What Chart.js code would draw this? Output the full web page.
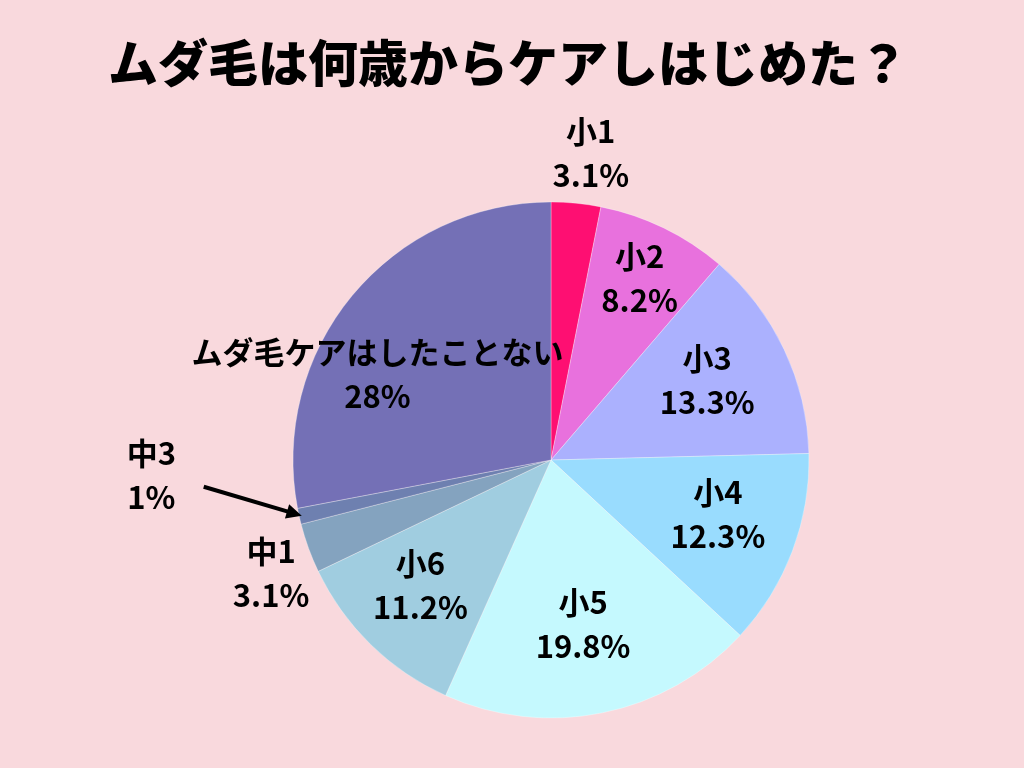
<!DOCTYPE html>
<html lang="ja">
<head>
<meta charset="utf-8">
<title>ムダ毛は何歳からケアしはじめた？</title>
<script src="https://cdn.jsdelivr.net/npm/chart.js@4.4.1/dist/chart.umd.min.js"></script>
<style>
  html, body { margin: 0; padding: 0; background: #f9d9dd; }
  #wrap { width: 1024px; height: 768px; position: relative; }
</style>
</head>
<body>
<div id="wrap"><canvas id="pieChart" width="1024" height="768"></canvas></div>
<script>
const title = 'ムダ毛は何歳からケアしはじめた？';
const categories = ['小1', '小2', '小3', '小4', '小5', '小6', '中1', '中3', 'ムダ毛ケアはしたことない'];
const percents = [3.1, 8.2, 13.3, 12.3, 19.8, 11.2, 3.1, 1, 28];
const colors = ['#fe0f72', '#e871dd', '#abb1fe', '#99dcfe', '#c5f9fe', '#a0cde0', '#84a3bf', '#6e80b0', '#7470b6'];

// ラベル位置（半径に対する倍率と角度のずれ）
const labelRadius = [1.20, 0.785, 0.68, 0.68, 0.65, 0.70, 1.17, 1.55, 0.75];
const labelShift = [1.8, 0, -1.7, -2.7, 0.5, 2, -2, 10.4, -13.4];
const arrowIndex = 7;

const FONT = '"Noto Sans CJK JP", "Noto Sans", sans-serif';

// タイトル描画
const titlePlugin = {
  id: 'bigTitle',
  afterDraw(chart) {
    const ctx = chart.ctx;
    ctx.save();
    ctx.fillStyle = '#000';
    ctx.font = '900 50px ' + FONT;
    ctx.textAlign = 'center';
    ctx.textBaseline = 'middle';
    ctx.fillText(title, 508, 63);
    ctx.restore();
  }
};

// 各スライスのラベル
const sliceLabels = {
  id: 'sliceLabels',
  afterDatasetsDraw(chart) {
    const ctx = chart.ctx;
    const arcs = chart.getDatasetMeta(0).data;
    ctx.save();
    ctx.fillStyle = '#000';
    ctx.textAlign = 'center';
    ctx.textBaseline = 'middle';
    ctx.font = 'bold 31px ' + FONT;
    arcs.forEach((arc, i) => {
      const p = arc.getProps(['x', 'y', 'startAngle', 'endAngle', 'outerRadius'], true);
      const mid = (p.startAngle + p.endAngle) / 2;
      const a = mid + labelShift[i] * Math.PI / 180;
      const r = p.outerRadius * labelRadius[i];
      const lx = p.x + Math.cos(a) * r;
      const ly = p.y + Math.sin(a) * r;
      ctx.fillText(categories[i], lx, ly - 22);
      ctx.fillText(percents[i] + '%', lx, ly + 22);

      if (i === arrowIndex) {
        const a0 = mid + 8.2 * Math.PI / 180;
        const sx = p.x + Math.cos(a0) * p.outerRadius * 1.35;
        const sy = p.y + Math.sin(a0) * p.outerRadius * 1.35;
        const ex = p.x + Math.cos(mid) * p.outerRadius * 0.99;
        const ey = p.y + Math.sin(mid) * p.outerRadius * 0.99;
        const ang = Math.atan2(ey - sy, ex - sx);
        ctx.strokeStyle = '#000';
        ctx.lineWidth = 4;
        ctx.beginPath();
        ctx.moveTo(sx, sy);
        ctx.lineTo(ex - Math.cos(ang) * 10, ey - Math.sin(ang) * 10);
        ctx.stroke();
        ctx.beginPath();
        ctx.moveTo(ex, ey);
        ctx.lineTo(ex - Math.cos(ang - 0.45) * 17, ey - Math.sin(ang - 0.45) * 17);
        ctx.lineTo(ex - Math.cos(ang + 0.45) * 17, ey - Math.sin(ang + 0.45) * 17);
        ctx.closePath();
        ctx.fill();
      }
    });
    ctx.restore();
  }
};

new Chart(document.getElementById('pieChart'), {
  type: 'pie',
  data: {
    labels: categories,
    datasets: [{
      data: percents,
      backgroundColor: colors,
      borderColor: 'rgba(255,255,255,0.3)',
      borderWidth: 1
    }]
  },
  options: {
    responsive: false,
    animation: false,
    devicePixelRatio: 1,
    radius: 258,
    layout: { padding: { left: 80, right: 2, top: 200, bottom: 48 } },
    plugins: {
      legend: { display: false },
      tooltip: { enabled: false },
      title: { display: false }
    }
  },
  plugins: [titlePlugin, sliceLabels]
});
</script>
</body>
</html>
